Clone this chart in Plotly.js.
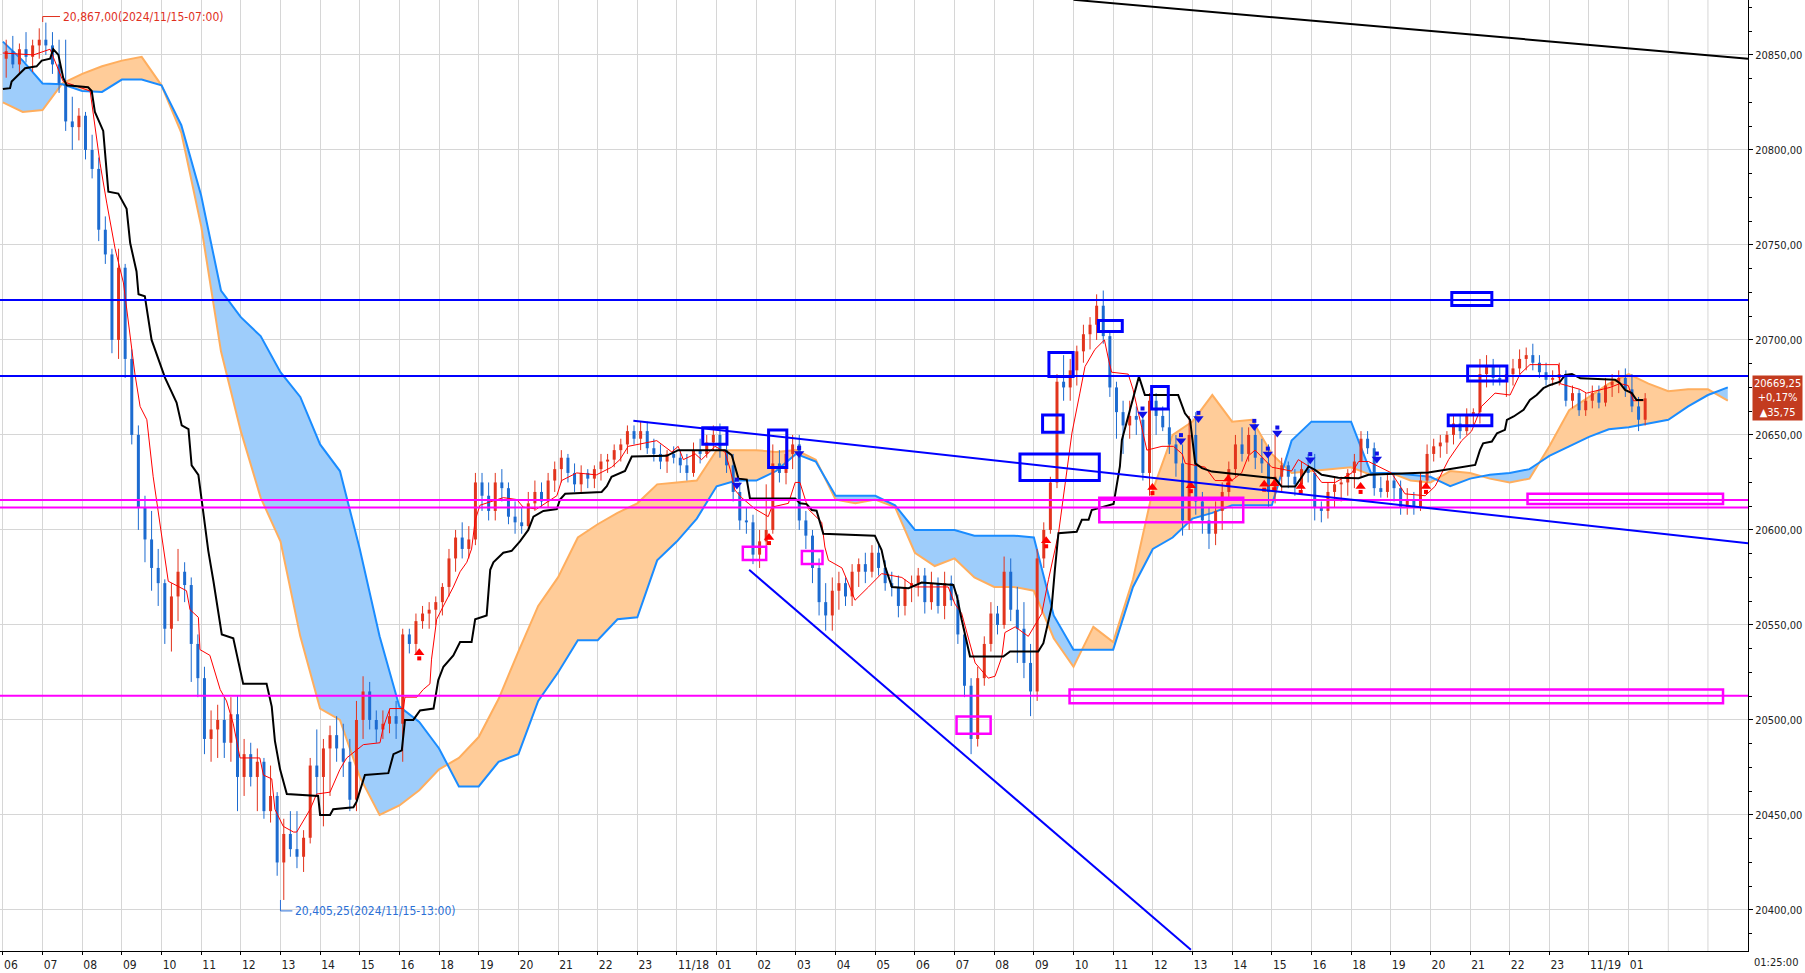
<!DOCTYPE html>
<html>
<head>
<meta charset="utf-8">
<script src="https://cdn.plot.ly/plotly-3.0.1.min.js"></script>
<style>
  html, body { margin: 0; padding: 0; background: #fff; }
  #chart { width: 1805px; height: 973px; }
</style>
</head>
<body>
<div id="chart"></div>
<script>
// x axis: one slot per trading hour (no bars at 17:00)
var hourLabels = ['06','07','08','09','10','11','12','13','14','15','16','18','19','20','21','22','23',
  '11/18','01','02','03','04','05','06','07','08','09','10','11','12','13','14','15','16','18','19','20','21','22','23',
  '11/19','01'];
var barsPerHour = 6;

// 10-minute bars (hour by hour)
var opens = [
  20848,20852,20845,20853,20849,20855, 20858,20855,20845,20835,20815,20812,
  20818,20800,20790,20758,20745,20700, 20738,20690,20650,20612,20595,20580,
  20572,20548,20565,20578,20571,20540, 20522,20490,20495,20500,20488,20503,
  20470,20482,20470,20478,20452,20460, 20425,20440,20432,20428,20438,20476,
  20470,20485,20492,20485,20478,20458, 20500,20515,20500,20495,20498,20502,
  20498,20545,20540,20552,20556,20558, 20562,20570,20585,20596,20590,20595,
  20625,20618,20610,20625,20622,20607, 20604,20602,20614,20620,20615,20626,
  20632,20638,20630,20624,20630,20627, 20632,20636,20637,20642,20645,20652,
  20648,20652,20643,20640,20636,20640, 20638,20634,20630,20642,20640,20646,
  20650,20642,20634,20620,20605,20604, 20587,20594,20600,20635,20630,20640,
  20645,20605,20597,20580,20562,20555, 20568,20572,20565,20578,20582,20578,
  20588,20580,20572,20570,20560,20570, 20572,20576,20562,20572,20560,20572,
  20563,20545,20518,20490,20522,20540, 20556,20550,20578,20558,20548,20530,
  20515,20585,20600,20625,20678,20675, 20684,20694,20703,20708,20718,20702,
  20675,20662,20655,20660,20658,20630, 20668,20660,20654,20645,20635,20605,
  20650,20615,20605,20598,20610,20620, 20632,20645,20640,20650,20638,20635,
  20620,20628,20634,20628,20624,20632, 20630,20612,20610,20620,20624,20625,
  20630,20636,20648,20643,20622,20620, 20626,20622,20612,20616,20612,20626,
  20640,20644,20646,20650,20656,20652, 20660,20662,20682,20686,20680,20679,
  20682,20685,20690,20692,20688,20683, 20679,20680,20682,20668,20672,20663,
  20668,20672,20667,20676,20678,20680, 20674,20665,20658
];
var highs = [
  20858,20860,20856,20862,20858,20864, 20867,20862,20858,20858,20828,20822,
  20820,20808,20796,20765,20748,20748, 20740,20695,20655,20618,20610,20590,
  20574,20572,20590,20583,20575,20545, 20528,20505,20508,20512,20512,20513,
  20490,20488,20485,20480,20476,20462, 20448,20452,20452,20442,20480,20495,
  20490,20497,20502,20498,20490,20510, 20523,20520,20505,20505,20506,20510,
  20548,20548,20556,20560,20562,20565, 20572,20590,20600,20604,20602,20630,
  20630,20625,20630,20632,20625,20615, 20612,20620,20626,20625,20630,20636,
  20642,20640,20635,20634,20632,20634, 20640,20640,20645,20648,20655,20655,
  20657,20657,20648,20645,20642,20644, 20642,20640,20646,20648,20650,20655,
  20656,20646,20640,20625,20612,20608, 20600,20624,20645,20642,20648,20650,
  20650,20610,20600,20585,20572,20575, 20578,20575,20582,20585,20588,20592,
  20592,20584,20578,20576,20574,20576, 20580,20580,20578,20575,20578,20576,
  20566,20548,20522,20528,20544,20562, 20560,20586,20585,20570,20562,20540,
  20590,20604,20628,20682,20692,20690, 20697,20708,20712,20724,20726,20705,
  20678,20668,20668,20665,20662,20672, 20672,20665,20664,20650,20645,20660,
  20662,20620,20612,20615,20625,20636, 20650,20654,20654,20656,20648,20645,
  20650,20638,20636,20632,20636,20640, 20640,20615,20625,20628,20628,20632,
  20640,20652,20652,20646,20628,20630, 20630,20626,20622,20620,20630,20645,
  20648,20650,20652,20660,20660,20664, 20664,20690,20692,20690,20686,20684,
  20690,20695,20696,20698,20692,20688, 20684,20688,20684,20676,20674,20672,
  20676,20676,20680,20682,20684,20685, 20682,20670,20672
];
var lows = [
  20838,20843,20840,20846,20841,20848, 20850,20840,20830,20810,20800,20805,
  20795,20785,20752,20740,20693,20690, 20680,20645,20600,20583,20568,20560,
  20540,20536,20552,20562,20520,20512, 20482,20478,20480,20480,20478,20452,
  20460,20465,20452,20448,20446,20418, 20405.25,20428,20422,20420,20435,20460,
  20444,20460,20478,20470,20452,20452, 20490,20495,20488,20490,20493,20490,
  20478,20535,20535,20548,20548,20550, 20555,20565,20578,20585,20585,20592,
  20610,20605,20605,20615,20603,20598, 20598,20600,20610,20612,20612,20620,
  20625,20625,20620,20620,20622,20622, 20626,20630,20633,20636,20640,20645,
  20642,20640,20636,20632,20630,20635, 20630,20626,20628,20635,20638,20642,
  20638,20630,20615,20600,20598,20582, 20580,20588,20598,20625,20624,20632,
  20600,20590,20572,20555,20547,20547, 20558,20560,20560,20570,20572,20575,
  20576,20568,20565,20554,20555,20562, 20565,20556,20558,20556,20553,20560,
  20540,20512,20482,20486,20518,20536, 20545,20548,20552,20530,20522,20502,
  20510,20580,20598,20622,20668,20668, 20676,20688,20695,20700,20698,20670,
  20648,20640,20648,20650,20626,20618, 20650,20652,20640,20628,20597,20600,
  20608,20598,20590,20592,20600,20616, 20628,20636,20636,20632,20630,20612,
  20614,20620,20622,20618,20620,20625, 20605,20604,20606,20612,20615,20618,
  20622,20628,20640,20618,20617,20617, 20615,20608,20608,20608,20610,20622,
  20636,20638,20640,20645,20648,20650, 20655,20656,20675,20676,20676,20670,
  20676,20682,20684,20684,20680,20676, 20676,20676,20665,20664,20660,20660,
  20664,20664,20665,20670,20672,20670, 20662,20652,20655
];
var closes = [
  20852,20845,20853,20849,20855,20858, 20855,20845,20835,20815,20812,20818,
  20800,20790,20758,20745,20700,20738, 20690,20650,20612,20595,20580,20572,
  20548,20565,20578,20571,20540,20522, 20490,20495,20500,20488,20503,20470,
  20482,20470,20478,20452,20460,20425, 20440,20432,20428,20438,20476,20470,
  20485,20492,20485,20478,20458,20500, 20515,20500,20495,20498,20502,20498,
  20545,20540,20552,20556,20558,20562, 20570,20585,20596,20590,20595,20625,
  20618,20610,20625,20622,20607,20604, 20602,20614,20620,20615,20626,20632,
  20638,20630,20624,20630,20627,20632, 20636,20637,20642,20645,20652,20648,
  20652,20643,20640,20636,20640,20638, 20634,20630,20642,20640,20646,20650,
  20642,20634,20620,20605,20604,20587, 20594,20600,20635,20630,20640,20645,
  20605,20597,20580,20562,20555,20568, 20572,20565,20578,20582,20578,20588,
  20580,20572,20570,20560,20570,20572, 20576,20562,20572,20560,20572,20563,
  20545,20518,20490,20522,20540,20556, 20550,20578,20558,20548,20530,20515,
  20585,20600,20625,20678,20675,20684, 20694,20703,20708,20718,20702,20675,
  20662,20655,20660,20658,20630,20668, 20660,20654,20645,20635,20605,20650,
  20615,20605,20598,20610,20620,20632, 20645,20640,20650,20638,20635,20620,
  20628,20634,20628,20624,20632,20630, 20612,20610,20620,20624,20625,20630,
  20636,20648,20643,20622,20620,20626, 20622,20612,20616,20612,20626,20640,
  20644,20646,20650,20656,20652,20660, 20662,20682,20686,20680,20679,20682,
  20685,20690,20692,20688,20683,20679, 20680,20682,20668,20672,20663,20668,
  20672,20667,20676,20678,20680,20674, 20665,20658,20669.25
];

// conversion line (red) and base line (black): [hour slot, price]
var tenkan = [[0,20851],[0.77,20850],[1.19,20853],[1.52,20836],[2.2,20831],[2.32,20814],[2.45,20793],[2.62,20772],
  [2.83,20748],[3.04,20730],[3.21,20703],[3.33,20682],[3.46,20665],[3.63,20658],[3.79,20628],[3.92,20610],[4.05,20592],
  [4.17,20573],[4.63,20568],[4.72,20558],[4.93,20554],[4.97,20537],[5.22,20534],[5.48,20516],[5.64,20510],[5.81,20498],
  [5.98,20480],[6.48,20480],[6.57,20471],[6.78,20469],[6.86,20453],[7.07,20444],[7.33,20441],[7.41,20441],[7.75,20453],
  [7.91,20461],[8.25,20462],[8.5,20474],[8.67,20480],[9.09,20487],[9.51,20488],[9.59,20496],[9.76,20506],[10.1,20506],
  [10.14,20512],[10.44,20512],[10.6,20516],[10.77,20519],[10.81,20532],[10.86,20541],[10.94,20553],[11.11,20560],
  [11.36,20570],[11.53,20578],[11.7,20583],[11.82,20590],[11.91,20605],[12.03,20613],[12.62,20617],[12.96,20616],
  [13.12,20612],[13.46,20611],[13.97,20618],[14.09,20626],[14.47,20630],[14.97,20629],[15.35,20633],[15.56,20637],
  [15.77,20644],[16.49,20647],[16.87,20641],[17.03,20644],[17.16,20637],[17.46,20640],[17.62,20637],[17.96,20644],
  [18.21,20641],[18.34,20632],[18.46,20621],[18.63,20617],[18.97,20611],[19.3,20607],[19.39,20612],[19.81,20614],
  [19.98,20625],[20.1,20625],[20.31,20611],[20.65,20604],[20.73,20591],[20.82,20584],[21.16,20580],[21.32,20572],
  [21.49,20563],[21.83,20570],[22.16,20577],[22.67,20575],[23.0,20570],[23.84,20570],[24.01,20561],[24.18,20556],
  [24.31,20546],[24.52,20530],[24.85,20522],[25.02,20523],[25.19,20533],[25.27,20546],[25.53,20549],[25.86,20544],
  [26.2,20556],[26.37,20574],[26.62,20598],[26.79,20626],[26.96,20651],[27.16,20672],[27.29,20686],[27.54,20695],
  [27.78,20700],[27.88,20690],[27.96,20683],[28.38,20682],[28.5,20674],[28.72,20654],[28.85,20642],[29.23,20644],
  [29.52,20644],[29.74,20640],[29.82,20635],[30.32,20633],[30.57,20626],[30.99,20626],[31.24,20630],[31.41,20639],
  [31.58,20642],[32.0,20633],[32.5,20631],[32.67,20637],[32.97,20633],[33.26,20625],[33.6,20625],[34.02,20630],
  [34.19,20636],[34.44,20636],[35.02,20630],[35.36,20619],[35.87,20618],[36.12,20623],[36.46,20637],[36.79,20647],
  [37.04,20652],[37.29,20665],[37.63,20672],[38.01,20671],[38.26,20682],[38.51,20687],[39.23,20687],[39.27,20677],
  [39.77,20674],[39.94,20672],[40.53,20675],[40.78,20677],[40.99,20676],[41.12,20668],[41.37,20668]];

var kijun = [[0,20832],[0.18,20832.5],[0.22,20836],[0.56,20843],[0.85,20844],[0.98,20847],[1.19,20848],[1.27,20853],
  [1.4,20850],[1.52,20838],[1.61,20834],[2.15,20833],[2.24,20831],[2.32,20820],[2.53,20810],[2.66,20778],[2.91,20777],
  [3.12,20769],[3.21,20751],[3.37,20736],[3.42,20724],[3.58,20723],[3.75,20700],[3.96,20688],[4.09,20680],[4.38,20667],
  [4.51,20655],[4.68,20653],[4.76,20634],[4.93,20629],[5.01,20616],[5.18,20589],[5.31,20573],[5.48,20549],[5.52,20545],
  [5.81,20543],[5.94,20530],[6.06,20519],[6.65,20519],[6.78,20507],[6.86,20489],[6.99,20474],[7.16,20461],[7.95,20460],
  [8.0,20450],[8.25,20450],[8.33,20453],[8.84,20454],[8.92,20457],[9.13,20471],[9.72,20472],[9.85,20482],[10.06,20484],
  [10.14,20500],[10.35,20500],[10.52,20505],[10.86,20506],[10.98,20521],[11.11,20528],[11.36,20534],[11.53,20541],
  [11.82,20541],[11.91,20553],[12.2,20555],[12.29,20579],[12.37,20583],[12.62,20588],[12.83,20589],[13.04,20594],
  [13.25,20600],[13.38,20607],[13.63,20610],[13.97,20611],[14.05,20616],[14.18,20619],[15.1,20620],[15.23,20623],
  [15.35,20628],[15.69,20631],[15.86,20638.6],[16.74,20639],[17.03,20642],[18.21,20642],[18.38,20639.4],[18.55,20627],
  [18.76,20626.5],[18.84,20616.6],[19.98,20616.6],[20.1,20614],[20.27,20613.6],[20.4,20610.5],[20.52,20610.1],
  [20.69,20598],[21.99,20597],[22.16,20589.4],[22.25,20580.6],[22.42,20570],[22.84,20569.3],[23.17,20572.3],
  [23.97,20571],[24.06,20565],[24.18,20552.7],[24.39,20533.4],[25.23,20533.4],[25.4,20536],[26.11,20536],
  [26.24,20540.4],[26.33,20549],[26.45,20559.7],[26.53,20579],[26.62,20598.3],[27.08,20599],[27.21,20605.3],
  [27.38,20605.3],[27.46,20610.5],[28.01,20613.7],[28.09,20622.8],[28.17,20633.4],[28.22,20647.4],[28.38,20659.7],
  [28.55,20672],[28.65,20680.7],[28.8,20671],[29.64,20671],[29.81,20661.4],[29.94,20657.9],[30.07,20635],
  [30.24,20632.5],[30.49,20630.7],[31.33,20629],[32.08,20627.2],[32.25,20622.8],[32.59,20622.8],[32.76,20628],
  [32.93,20633.4],[33.09,20631.6],[33.26,20629],[33.68,20627.5],[34.19,20627.2],[34.44,20629],[35.95,20630.2],
  [36.62,20632.5],[37.13,20634.2],[37.25,20642],[37.33,20645.6],[37.55,20646.5],[37.68,20650.9],[37.88,20652.7],
  [37.93,20657.9],[38.1,20659.7],[38.35,20663.2],[38.51,20668.4],[38.68,20671],[38.85,20674.6],[39.02,20676.3],
  [39.27,20678],[39.4,20681.6],[39.57,20682.1],[39.78,20679.8],[40.66,20679],[40.78,20677.2],[40.91,20673.7],
  [41.08,20672],[41.2,20668.4],[41.37,20668.4]];

// leading spans, one value every half hour (already shifted forward)
var cloudStep = 0.5;
var spanA = [20825,20820,20821,20835,20840,20844,20847,20849,20834,20809,20760,20694,20652,20617,20594,20544,
  20506,20500,20470,20450,20455,20463,20474,20480,20491,20511,20536,20560,20575,20596,20603,20609,20614,20624,
  20625,20626,20642,20642,20642,20641,20642,20637,20616,20614,20616,20612,20588,20581,20585,20575,20570,20570,
  20568,20543,20528,20549,20541,20574,20621,20650,20657,20671,20657,20658,20640,20630,20631,20632,20633,20629,
  20630,20626,20625,20631,20630,20627,20625,20627,20644,20663,20670,20677,20682,20677,20673,20674,20674,20668];
var spanB = [20857,20847,20835,20834.5,20831,20830.5,20837,20837,20834,20813,20776,20726,20712,20702,20683,20670,
  20645,20631,20590,20544,20507,20499,20485,20465,20465,20478,20482,20510,20525,20542,20542,20553,20554,20584,
  20594,20606,20623,20626,20626,20631,20640,20636,20618,20618,20618,20613,20600,20600,20600,20597,20597,20597,
  20596,20555,20537,20537,20537,20570,20590,20596,20606,20609,20613,20613,20613,20647,20657,20657,20657,20630,
  20630,20629,20628,20623,20627,20629,20630,20632,20639,20644,20649,20653,20654,20656,20658,20665,20671,20675];

// drawn objects on the chart
var blueLevels = [20721, 20681];
var magentaLevels = [20615.8, 20611.8, 20512.8];
var blackTrend = [27.0, 20879, 44.01, 20848];
var blueTrends = [[15.9, 20657.5, 44.01, 20593], [18.82, 20579, 29.96, 20379]];
var blueBoxes = [[17.65,18.26,20645.1,20653.8],[19.31,19.77,20632.8,20652.6],[26.38,26.99,20680.7,20693.4],
  [26.22,26.74,20651.4,20660.5],[25.65,27.65,20626,20640],[27.63,28.23,20704.4,20710.2],[28.97,29.39,20663.7,20675.5],
  [36.54,37.55,20718.1,20724.9],[36.94,37.93,20678.4,20686.3],[36.45,37.55,20654.8,20660.5]];
var magentaBoxes = [[18.66,19.25,20584.2,20591.2],[20.15,20.67,20582.1,20588.9],[24.05,24.91,20492.7,20501.8],
  [27.65,31.28,20604,20617],[26.9,43.38,20508.8,20516],[38.45,43.38,20613.6,20619]];
var buySignals = [[10.5,20534],[19.32,20594.7],[26.31,20593],[28.99,20621],[29.96,20622],[30.9,20625.5],
  [31.81,20622.8],[32.06,20623],[32.73,20621.6],[34.24,20621.6],[35.89,20621.6]];
var sellSignals = [[18.51,20624.9],[20.08,20641.5],[28.74,20662.3],[29.71,20648.3],[30.15,20660],[31.56,20655.8],
  [31.9,20641.2],[32.14,20652.3],[32.97,20638.3],[34.65,20638.6]];
var yTicks = [20400,20450,20500,20550,20600,20650,20700,20750,20800,20850];

var FONT = '"DejaVu Sans Condensed", "Liberation Sans Narrow", sans-serif';
var UP = '#e2341d', DOWN = '#1c6bd0';

function barX(i) {
  return Math.floor(i / barsPerHour) + (i % barsPerHour + 0.5) / barsPerHour;
}

// candles as line segments so they sit under the indicator lines
var wick = {up: {x: [], y: []}, dn: {x: [], y: []}};
var body = {up: {x: [], y: []}, dn: {x: [], y: []}};
for (var i = 0; i < closes.length; i++) {
  var x = barX(i);
  var side = closes[i] >= opens[i] ? 'up' : 'dn';
  wick[side].x.push(x, x, null);
  wick[side].y.push(lows[i], highs[i], null);
  var b0 = Math.min(opens[i], closes[i]), b1 = Math.max(opens[i], closes[i]);
  if (b1 - b0 < 0.8) { b0 -= 0.4; b1 += 0.4; }
  body[side].x.push(x, x, null);
  body[side].y.push(b0, b1, null);
}

// cloud: add crossing points so each colour fills only its own side
var cx = [], ca = [], cb = [];
for (var k = 0; k < spanA.length; k++) {
  if (k > 0) {
    var d0 = spanA[k - 1] - spanB[k - 1], d1 = spanA[k] - spanB[k];
    if (d0 * d1 < 0) {
      var t = d0 / (d0 - d1);
      var yc = spanA[k - 1] + t * (spanA[k] - spanA[k - 1]);
      cx.push((k - 1 + t) * cloudStep); ca.push(yc); cb.push(yc);
    }
  }
  cx.push(k * cloudStep); ca.push(spanA[k]); cb.push(spanB[k]);
}
var lo = ca.map(function (a, j) { return Math.min(a, cb[j]); });

function line(xs, ys, color, width, extra) {
  var tr = {type: 'scatter', mode: 'lines', x: xs, y: ys, line: {color: color, width: width},
    hoverinfo: 'skip', showlegend: false};
  for (var key in extra) tr[key] = extra[key];
  return tr;
}
function col(pts, j) { return pts.map(function (p) { return p[j]; }); }
function shifted(pts, dy) { return pts.map(function (p) { return p[1] + dy; }); }
function dots(xs, ys, symbol, size, color) {
  return {type: 'scatter', mode: 'markers', x: xs, y: ys, hoverinfo: 'skip', showlegend: false,
    marker: {symbol: symbol, size: size, color: color, line: {width: 0}}};
}

var data = [
  line(cx, lo, 'rgba(0,0,0,0)', 0),
  line(cx, ca, 'rgba(0,0,0,0)', 0, {fill: 'tonexty', fillcolor: '#ffcc99'}),
  line(cx, lo, 'rgba(0,0,0,0)', 0),
  line(cx, cb, 'rgba(0,0,0,0)', 0, {fill: 'tonexty', fillcolor: '#9ecdfb'}),
  line(cx, ca, '#ffae5e', 2),
  line(cx, cb, '#1a8cff', 2),
  line(wick.up.x, wick.up.y, UP, 1),
  line(wick.dn.x, wick.dn.y, DOWN, 1),
  line(body.up.x, body.up.y, UP, 3),
  line(body.dn.x, body.dn.y, DOWN, 3),
  line(col(tenkan, 0), col(tenkan, 1), '#ff0000', 1),
  line(col(kijun, 0), col(kijun, 1), '#000000', 2),
  // block arrows: head + stem
  dots(col(buySignals, 0), shifted(buySignals, 1.3), 'triangle-up', 9, '#ff0000'),
  dots(col(buySignals, 0), shifted(buySignals, -1.6), 'square', 4, '#ff0000'),
  dots(col(sellSignals, 0), shifted(sellSignals, -1.3), 'triangle-down', 9, '#1010e8'),
  dots(col(sellSignals, 0), shifted(sellSignals, 1.6), 'square', 4, '#1010e8')
];

var shapes = [];
[42, 43].forEach(function (h) {
  shapes.push({type: 'line', layer: 'below', xref: 'x', yref: 'paper', x0: h, x1: h, y0: 0, y1: 1,
    line: {color: '#d6d6d6', width: 1}});
});
blueLevels.forEach(function (p) {
  shapes.push({type: 'line', xref: 'paper', yref: 'y', x0: 0, x1: 1, y0: p, y1: p, line: {color: '#0000ff', width: 2}});
});
magentaLevels.forEach(function (p) {
  shapes.push({type: 'line', xref: 'paper', yref: 'y', x0: 0, x1: 1, y0: p, y1: p, line: {color: '#ff00ff', width: 2}});
});
shapes.push({type: 'line', xref: 'x', yref: 'y', x0: blackTrend[0], y0: blackTrend[1], x1: blackTrend[2], y1: blackTrend[3],
  line: {color: '#000000', width: 2}});
blueTrends.forEach(function (s) {
  shapes.push({type: 'line', xref: 'x', yref: 'y', x0: s[0], y0: s[1], x1: s[2], y1: s[3], line: {color: '#0000ff', width: 2}});
});
blueBoxes.forEach(function (b) {
  shapes.push({type: 'rect', xref: 'x', yref: 'y', x0: b[0], x1: b[1], y0: b[2], y1: b[3], line: {color: '#0000ff', width: 3}});
});
magentaBoxes.forEach(function (b) {
  shapes.push({type: 'rect', xref: 'x', yref: 'y', x0: b[0], x1: b[1], y0: b[2], y1: b[3], line: {color: '#ff00ff', width: 2.5}});
});
// elbow leaders for the high / low labels
shapes.push({type: 'path', xref: 'x', yref: 'y', path: 'M 1.004,20867.3 L 1.004,20870.2 L 1.44,20870.2',
  line: {color: '#e0301e', width: 1}});
shapes.push({type: 'path', xref: 'x', yref: 'y', path: 'M 7.0,20405.25 L 7.0,20399.5 L 7.3,20399.5',
  line: {color: '#2a6fd6', width: 1}});

var layout = {
  width: 1805, height: 973,
  margin: {l: 0, r: 57, t: 0, b: 22},
  paper_bgcolor: '#ffffff', plot_bgcolor: '#ffffff',
  showlegend: false,
  font: {family: FONT, size: 11, color: '#222222'},
  xaxis: {
    range: [-0.073, 44.01],
    tickmode: 'array',
    tickvals: hourLabels.map(function (_, j) { return j; }),
    ticktext: hourLabels.map(function (s) { return s.length > 2 ? '\u00a0\u00a0\u00a0\u00a0\u00a0' + s : s; }),
    ticklabelshift: 8,
    showgrid: true, gridcolor: '#d6d6d6', gridwidth: 1,
    zeroline: false, showline: true, linecolor: '#000000', linewidth: 1,
    ticks: 'outside', ticklen: 3, tickcolor: '#000000',
    tickfont: {size: 12, color: '#222222'},
    rangeslider: {visible: false}, fixedrange: true
  },
  yaxis: {
    side: 'right',
    range: [20378.4, 20878.9],
    tickmode: 'array',
    tickvals: yTicks,
    ticktext: yTicks.map(function (v) { return v + ',00'; }),
    showgrid: true, gridcolor: '#d6d6d6', gridwidth: 1,
    zeroline: false, showline: true, linecolor: '#000000', linewidth: 1,
    ticks: 'outside', ticklen: 4, tickcolor: '#000000',
    minor: {dtick: 12.5, tick0: 20400, ticks: 'outside', ticklen: 3, tickcolor: '#000000', showgrid: false},
    tickfont: {size: 11, color: '#222222'},
    fixedrange: true
  },
  shapes: shapes,
  annotations: [
    {xref: 'x', yref: 'y', x: 1.46, y: 20870.2, xanchor: 'left', yanchor: 'middle', showarrow: false,
      text: '20,867,00(2024/11/15-07:00)', font: {color: '#e0301e', size: 12}},
    {xref: 'x', yref: 'y', x: 7.31, y: 20399.5, xanchor: 'left', yanchor: 'middle', showarrow: false,
      text: '20,405,25(2024/11/15-13:00)', font: {color: '#2a6fd6', size: 12}},
    {xref: 'paper', yref: 'y', x: 1, y: closes[closes.length - 1], xanchor: 'left', yanchor: 'middle', xshift: 4,
      showarrow: false, align: 'center', bgcolor: '#c33b1f', borderpad: 1,
      text: '20669,25<br>+0,17%<br>\u25b235,75', font: {color: '#ffffff', size: 11}},
    {xref: 'paper', yref: 'paper', x: 1, y: 0, xanchor: 'right', yanchor: 'top', xshift: 52, yshift: -3,
      showarrow: false, text: '01:25:00', font: {size: 11, color: '#222222'}}
  ]
};

Plotly.newPlot('chart', data, layout, {displayModeBar: false, staticPlot: true});
</script>
</body>
</html>
